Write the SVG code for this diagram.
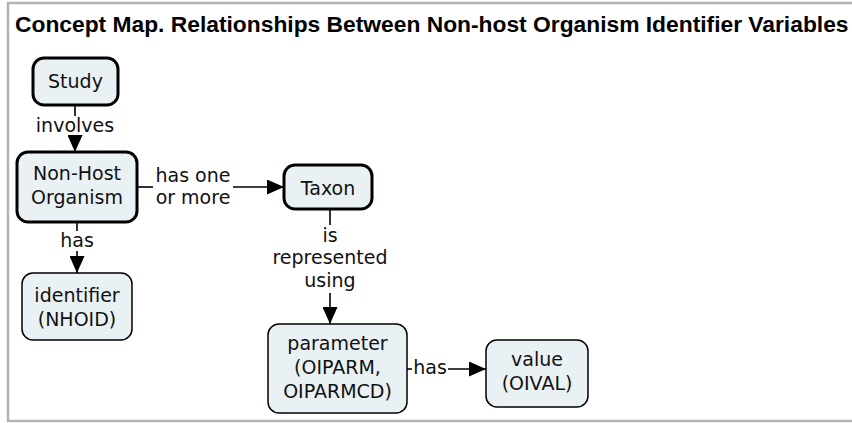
<svg xmlns="http://www.w3.org/2000/svg" width="852" height="423" viewBox="0 0 852 423">
<style>
.frame{fill:#fff;stroke:#b4b4b4;stroke-width:2.5}
.title{font-family:"Liberation Sans",Arial,sans-serif;font-weight:bold;font-size:22.8px;fill:#000}
.node rect{fill:#eaf1f4;stroke:#000}
.bold rect{stroke-width:3}
.thin rect{stroke-width:1.5}
text.t{font-family:"DejaVu Sans",Verdana,sans-serif;font-size:19px;fill:#111;text-anchor:middle}
.conn line{stroke:#000;stroke-width:1.6}
</style>
<defs>
<marker id="ah" markerWidth="17" markerHeight="15" refX="17" refY="7.5" orient="auto" markerUnits="userSpaceOnUse">
<path d="M0,0 L17,7.5 L0,15 Z" fill="#000"/>
</marker>
</defs>
<rect class="frame" x="8" y="3" width="860" height="418"/>
<text class="title" x="15" y="32">Concept Map. Relationships Between Non-host Organism Identifier Variables</text>

<g id="connectors" class="conn">
<line x1="75" y1="105" x2="75" y2="116"/>
<text class="t" x="75" y="132">involves</text>
<line x1="75" y1="136" x2="75" y2="152" marker-end="url(#ah)"/>

<line x1="137" y1="187" x2="153" y2="187"/>
<text class="t" x="193" y="182">has one</text>
<text class="t" x="193" y="204">or more</text>
<line x1="233" y1="187" x2="284" y2="187" marker-end="url(#ah)"/>

<line x1="77" y1="222" x2="77" y2="231"/>
<text class="t" x="77" y="247">has</text>
<line x1="77" y1="251" x2="77" y2="273" marker-end="url(#ah)"/>

<line x1="330" y1="209" x2="330" y2="225"/>
<text class="t" x="330" y="242">is</text>
<text class="t" x="330" y="264">represented</text>
<text class="t" x="330" y="287">using</text>
<line x1="330" y1="293" x2="330" y2="324" marker-end="url(#ah)"/>

<line x1="407" y1="369" x2="412" y2="369"/>
<text class="t" x="430" y="374">has</text>
<line x1="448" y1="369" x2="486" y2="369" marker-end="url(#ah)"/>
</g>

<g id="study" class="node bold">
<rect x="33" y="58" width="85" height="47" rx="11"/>
<text class="t" x="75.5" y="88">Study</text>
</g>
<g id="nonhost" class="node bold">
<rect x="17" y="152" width="120" height="70" rx="11"/>
<text class="t" x="77" y="180">Non-Host</text>
<text class="t" x="77" y="204">Organism</text>
</g>
<g id="taxon" class="node bold">
<rect x="284" y="165" width="88" height="44" rx="11"/>
<text class="t" x="328" y="195">Taxon</text>
</g>
<g id="identifier" class="node thin">
<rect x="22" y="273" width="110" height="67" rx="11"/>
<text class="t" x="77" y="302">identifier</text>
<text class="t" x="77" y="326">(NHOID)</text>
</g>
<g id="parameter" class="node thin">
<rect x="268" y="324" width="139" height="89" rx="11"/>
<text class="t" x="337.5" y="350">parameter</text>
<text class="t" x="337.5" y="374">(OIPARM,</text>
<text class="t" x="337.5" y="398">OIPARMCD)</text>
</g>
<g id="value" class="node thin">
<rect x="486" y="340" width="102" height="67" rx="11"/>
<text class="t" x="537" y="366">value</text>
<text class="t" x="537" y="390">(OIVAL)</text>
</g>
</svg>
